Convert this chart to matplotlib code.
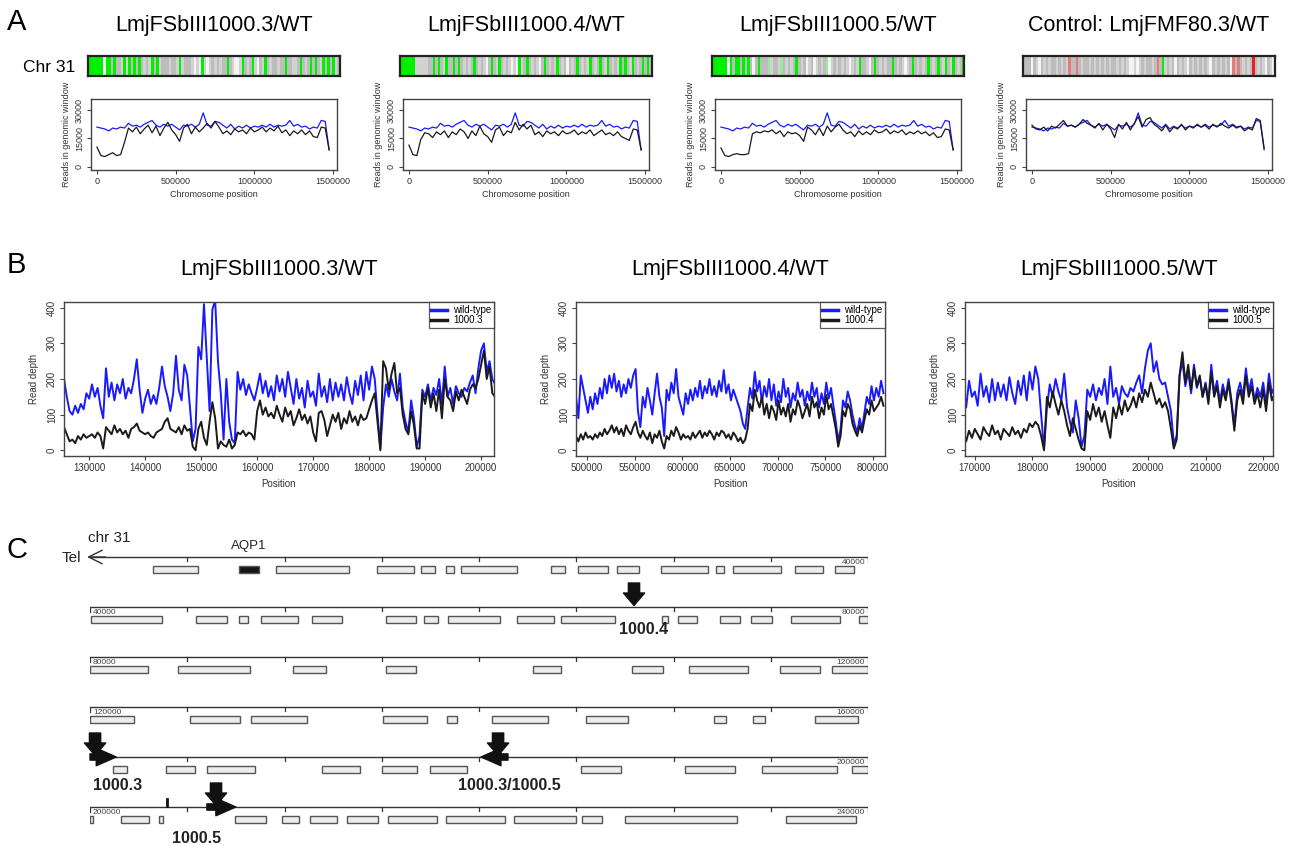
import numpy as np
import matplotlib.pyplot as plt
from matplotlib.patches import Rectangle
from matplotlib.lines import Line2D
from matplotlib.colors import to_rgb

plt.rcParams['font.family'] = ['Liberation Sans', 'DejaVu Sans']

W, H = 1298, 846

# ---------------- panel A data ----------------
titles_a = ['LmjFSbIII1000.3/WT', 'LmjFSbIII1000.4/WT', 'LmjFSbIII1000.5/WT', 'Control: LmjFMF80.3/WT']

# one char per genomic window: G green, g pale green, s grey, l light grey, w white, r/R red
strips = [
    "GGGGGGwGGs" "GsslGlGsGs" "GslslGsGls" "sslsslGlss" "slwlwGlwls"
    "lslssGslww" "lGslsGlwsl" "GslsslssGs" "sllsGslsGs" "GslGsGsGls",
    "GGGGGGllll" "lssGsGslGs" "sGsGslslsG" "slslwsGslG" "slslwlwGls"
    "GslslwsGsl" "slGslswsls" "GslslGslsG" "slGslslGsG" "slGslsGsGs",
    "GGGGGGwGsG" "GsGsGswsGs" "ssglsslgsl" "slsGslswls" "wlslsgwlsl"
    "slslwlslGs" "slwsGslsls" "sGslslwlsG" "slslsGslsG" "slGslGslsG",
    "ssswslwsls" "lsslslslrs" "srslsslsls" "lslslsslsl" "slwwlwlsls"
    "slsrsGlsls" "wslslwslsl" "slslwslsls" "lswrsrslsl" "sRslslwslw",
]
strip_colors = {'G': '#00f000', 'g': '#9be89b', 's': '#bdbdbd', 'l': '#d2d2d2',
                'w': '#f4f4f4', 'r': '#e77a7a', 'R': '#f02020'}

win_start, win_step = 0, 25000
wt_win = [21000, 20500, 20000, 19000, 20500, 20000, 21000, 20500, 23000, 21500,
          22000, 21000, 22500, 23500, 24500, 22000, 21000, 22500, 21500, 22500,
          21000, 19500, 22000, 21500, 22500, 21000, 22500, 28500, 22000, 21500,
          24000, 23500, 22000, 20500, 22500, 20000, 21500, 20500, 22000, 20500,
          21500, 21000, 22000, 21000, 22500, 21000, 22000, 21500, 22000, 24500,
          21500, 22500, 21000, 21500, 20000, 21000, 20500, 24500, 24000, 9000]
mut3_win = [10500, 6000, 5500, 6500, 7500, 6000, 6500, 13000, 20500, 18500,
            21000, 17500, 20000, 22000, 18000, 21500, 16500, 20500, 23500, 19500,
            17000, 13500, 20500, 22500, 17500, 21000, 18500, 20500, 23000, 20500,
            24000, 21000, 17500, 19000, 17000, 20000, 18500, 19500, 17500, 20500,
            18500, 19500, 21000, 18500, 20500, 19000, 21500, 18000, 19500, 16500,
            19000, 17500, 19500, 17000, 19000, 16000, 15500, 21000, 20500, 9000]
mut4_win = [11500, 6500, 6000, 14500, 18000, 17500, 15500, 18500, 17000, 19000,
            15500, 18500, 17000, 20000, 18500, 15000, 19000, 16500, 21500, 17500,
            16000, 13000, 19500, 21000, 16500, 19000, 18000, 23500, 19500, 22500,
            20000, 22000, 17000, 18500, 16000, 19000, 17500, 18500, 16500, 19000,
            17500, 18000, 19500, 17000, 18500, 17500, 19500, 16500, 18000, 19500,
            17000, 18000, 16500, 18500, 16000, 15000, 14000, 20000, 19500, 9000]
mut5_win = [10000, 6000, 5500, 6500, 7000, 6500, 6500, 7000, 17500, 18500,
            18000, 19000, 18500, 19500, 17500, 19000, 16000, 18500, 17500, 18000,
            16500, 13500, 21000, 19500, 17000, 20500, 16500, 21500, 18500, 21000,
            22500, 19500, 17500, 18500, 16000, 19000, 17000, 18500, 17000, 19500,
            18000, 18500, 20000, 17500, 19000, 18000, 19500, 17000, 18500, 17500,
            19000, 17500, 18500, 16500, 18000, 15500, 16000, 20000, 19500, 9000]
ctrl_win = [22000, 20000, 19500, 21000, 19000, 21500, 20500, 22500, 24500, 21500,
            22000, 21000, 22500, 25000, 23000, 22000, 20500, 23000, 19500, 22500,
            20000, 15500, 22500, 20000, 23500, 19500, 23000, 26500, 21000, 25000,
            26000, 22500, 21000, 19000, 22000, 18500, 21000, 20000, 22500, 19500,
            21500, 20500, 22500, 21000, 22000, 20000, 22500, 21000, 23000, 21500,
            20500, 22000, 20500, 21500, 19000, 20500, 19500, 25500, 24500, 10000]
mut_wins = [mut3_win, mut4_win, mut5_win, ctrl_win]

# ---------------- panel B data ----------------
titles_b = ['LmjFSbIII1000.3/WT', 'LmjFSbIII1000.4/WT', 'LmjFSbIII1000.5/WT']
mut_names = ['1000.3', '1000.4', '1000.5']

# wild-type depth, chr31 125.5-222 kb, every 500 bp
wt_a_start, depth_step_a = 125500, 500
wt_depth_a = [200, 150, 110, 100, 125, 105, 130, 115, 160, 145,
              185, 150, 175, 125, 90, 230, 150, 190, 140, 185,
              160, 200, 145, 175, 160, 200, 255, 170, 105, 145,
              170, 130, 155, 130, 175, 235, 180, 150, 110, 160,
              265, 170, 140, 240, 210, 120, 25, 60, 290, 255,
              410, 260, 110, 395, 420, 250, 160, 30, 200, 80,
              30, 20, 220, 170, 200, 155, 185, 160, 140, 175,
              215, 160, 195, 150, 180, 140, 210, 165, 200, 150,
              220, 175, 130, 200, 145, 175, 120, 195, 150, 165,
              125, 215, 150, 180, 135, 200, 140, 190, 150, 185,
              140, 205, 160, 130, 195, 155, 210, 140, 220, 170,
              235, 200, 100, 5, 120, 185, 150, 200, 165, 140,
              215, 120, 80, 50, 140, 90, 10, 40, 170, 150,
              185, 140, 175, 155, 200, 130, 235, 150, 175, 130,
              180, 160, 150, 175, 165, 190, 210, 160, 230, 280,
              300, 220, 250, 200, 185,
              190, 150, 110, 20, 40, 210, 250, 180, 220, 160,
              240, 175, 205, 150, 190, 140, 240, 160, 195, 135,
              185, 150, 200, 140, 70, 160, 190, 150, 230, 165,
              200, 140, 175, 150, 190, 130, 215, 160, 180]
mut3_start = 125500
mut3_depth = [65, 45, 25, 30, 20, 40, 30, 45, 35, 40,
              45, 35, 50, 40, 5, 65, 55, 45, 70, 50,
              60, 45, 55, 35, 60, 65, 75, 55, 50, 45,
              50, 40, 35, 50, 55, 60, 80, 90, 60, 55,
              50, 65, 45, 70, 55, 60, 10, 0, 60, 80,
              35, 15, 80, 135, 90, 5, 25, 15, 10, 30,
              5, 15, 50, 45, 55, 40, 50, 45, 30, 110,
              140, 100, 120, 95, 105, 90, 125, 100, 80, 120,
              95, 110, 70, 90, 115, 85, 100, 75, 95, 50,
              25, 105, 110, 85, 40, 70, 100, 80, 105, 60,
              90, 75, 110, 80, 95, 70, 100, 85, 90, 115,
              140, 160, 80, 0, 250, 230, 170, 215, 245, 160,
              175, 100, 60, 45, 110, 70, 5, 5, 160, 130,
              175, 120, 160, 110, 170, 90, 200, 150, 140, 110,
              165, 140, 170, 150, 130, 170, 185, 175, 200, 240,
              280, 200, 235, 160, 150]
mut5_start = 168000
mut5_depth = [40, 25, 55, 35, 60, 45, 30, 65, 50, 40,
              70, 45, 55, 30, 60, 50, 40, 65, 45, 55,
              35, 60, 50, 75, 65, 80, 70, 40, 0, 150,
              120, 165, 130, 100, 140, 110, 70, 40, 90, 60,
              30, 5, 0, 110, 85, 130, 95, 120, 80, 110,
              70, 35, 120, 90, 130, 100, 140, 110, 125, 150,
              120, 160, 135, 170, 150, 190, 160, 130, 145, 120,
              135, 110, 60, 5, 30, 210, 275, 190, 240, 170,
              230, 180, 210, 150, 185, 130, 220, 150, 180, 120,
              170, 140, 190, 130, 55, 140, 170, 130, 210, 150,
              180, 130, 160, 120, 170, 110, 190, 140, 160]

# wild-type and 1000.4 depth, chr31 488.5-811 kb, every 2500 bp
wt_b_start, depth_step_b = 488500, 2500
wt_depth_b = [150, 90, 210, 175, 140, 105, 150, 115, 160, 130,
              175, 145, 200, 160, 210, 175, 215, 165, 195, 150,
              185, 160, 200, 175, 210, 228, 110, 65, 150, 120,
              175, 140, 100, 160, 215, 150, 120, 40, 170, 140,
              190, 160, 228, 150, 125, 100, 160, 130, 170, 140,
              175, 150, 195, 145, 180, 160, 200, 155, 180, 150,
              195, 165, 225, 160, 185, 140, 170, 150, 130, 110,
              75, 60, 120, 175, 145, 220, 165, 195, 135, 180,
              150, 200, 140, 185, 125, 165, 135, 200, 150, 175,
              120, 160, 140, 190, 150, 170, 125, 165, 140, 190,
              150, 175, 120, 160, 130, 190, 145, 175, 125, 80,
              25, 60, 140, 120, 165, 140, 100, 70, 50, 90,
              60, 105, 150, 130, 180, 140, 175, 150, 195, 160]
mut4_depth = [40, 25, 45, 30, 50, 35, 40, 30, 45, 35,
              50, 40, 60, 45, 55, 70, 50, 65, 45, 60,
              40, 70, 55, 45, 65, 80, 50, 35, 55, 40,
              30, 50, 20, 45, 35, 55, 25, 5, 40, 30,
              55, 40, 65, 50, 30, 45, 35, 40, 30, 50,
              35, 45, 55, 35, 50, 40, 55, 45, 30, 50,
              40, 55, 50, 35, 45, 30, 50, 40, 25, 35,
              20, 30, 60, 130, 110, 170, 140, 120, 150, 100,
              130, 90, 125, 110, 85, 140, 100, 120, 95, 130,
              80, 115, 100, 140, 120, 90, 110, 130, 95, 150,
              120, 135, 90, 120, 100, 155, 115, 130, 95, 60,
              10, 40, 110, 95, 130, 115, 75, 55, 40, 70,
              50, 85, 115, 100, 140, 110, 120, 130, 150, 125]

b_xlims = [(125500, 202300), (488500, 812600), (168300, 221700)]
b_xticks = [range(130000, 200001, 10000), range(500000, 800001, 50000), range(170000, 220001, 10000)]

# ---------------- panel C data ----------------
row_len = 40000
n_rows = 6
genes = [(3240, 5550), (9560, 13320), (14750, 16660), (17020, 17740), (18300, 18710),
         (19070, 21950), (23700, 24420), (25090, 26630), (27090, 28220), (29350, 31770),
         (32180, 32590), (33060, 35520), (36240, 37680), (38300, 39280),
         (40050, 43700), (45450, 47040), (47660, 48120), (48790, 50690), (51410, 52950),
         (55220, 56760), (57170, 57890), (58400, 61080), (61950, 63850), (64210, 66990),
         (69410, 69720), (70230, 71210), (72390, 73420), (73980, 75060), (76040, 78560),
         (79530, 82980), (84520, 88230), (90440, 92130), (95220, 96760), (102770, 104210),
         (107860, 109460), (110790, 113830), (115470, 117530), (118150, 122260),
         (125140, 127710), (128280, 131160), (135060, 137330), (138350, 138870),
         (140670, 143550), (145500, 147660), (152080, 152700), (154090, 154700),
         (157270, 159480), (161180, 161900), (163910, 165400), (166010, 168480),
         (171930, 173880), (175010, 176810), (177480, 179380), (185240, 187300),
         (190590, 193160), (194550, 198400), (199170, 200150), (201590, 203030),
         (203550, 203750), (207450, 209050), (209870, 210740), (211310, 212700),
         (213210, 214810), (215320, 217840), (218300, 221340), (221800, 224990),
         (225290, 226320), (227500, 233260), (235780, 239380)]
aqp1 = (7660, 8690)
insertions = [67970, 160260, 180980, 206480]
insertion_labels = ['1000.4', '1000.3', '1000.3/1000.5', '1000.5']
directions = [(160000, 161350), (181490, 180100), (206010, 207500)]
small_mark = 203960

# ---------------- figure ----------------
fig = plt.figure(figsize=(W / 100, H / 100), dpi=100)


def px_axes(x0, y0, x1, y1):
    return fig.add_axes([x0 / W, 1 - y1 / H, (x1 - x0) / W, (y1 - y0) / H])


def r_style(ax, size):
    for s in ax.spines.values():
        s.set_linewidth(1.0)
        s.set_color('#444444')
    ax.tick_params(direction='out', length=3, width=0.8, color='#444444',
                   labelsize=size, labelcolor='#333333', pad=2)


BLUE = '#1a1aff'
BLACK = '#1a1a1a'

fig.text(7 / W, 1 - 22 / H, 'A', fontsize=21, va='center')
fig.text(7 / W, 1 - 265 / H, 'B', fontsize=21, va='center')
fig.text(7 / W, 1 - 550 / H, 'C', fontsize=21, va='center')
fig.text(23 / W, 1 - 67 / H, 'Chr 31', fontsize=12.5, va='center')

win_pos = win_start + win_step * np.arange(len(wt_win))
strip_x = [88, 400, 712, 1023]
for k in range(4):
    x0 = strip_x[k]
    fig.text((x0 + 126) / W, 1 - 25 / H, titles_a[k], ha='center', va='center', fontsize=15.5)
    sa = px_axes(x0, 56, x0 + 252, 76)
    rgb = np.array([[to_rgb(strip_colors[c]) for c in strips[k]]])
    sa.imshow(rgb, aspect='auto', interpolation='nearest')
    sa.set_xticks([])
    sa.set_yticks([])
    for s in sa.spines.values():
        s.set_linewidth(1.6)
        s.set_color('#222222')

    ax = px_axes(x0 + 3, 99, x0 + 249, 170)
    ax.plot(win_pos, wt_win, color=BLUE, lw=0.9)
    ax.plot(win_pos, mut_wins[k], color=BLACK, lw=0.9)
    ax.set_xlim(-38000, 1525000)
    ax.set_ylim(-1600, 35800)
    ax.set_xticks([0, 500000, 1000000, 1500000])
    ax.set_xticklabels(['0', '500000', '1000000', '1500000'])
    ax.set_yticks([0, 15000, 30000])
    ax.set_yticklabels(['0', '15000', '30000'], rotation=90, va='center')
    r_style(ax, 6.5)
    ax.set_xlabel('Chromosome position', fontsize=6.5, color='#333333', labelpad=3)
    ax.set_ylabel('Reads in genomic window', fontsize=6.5, color='#333333', labelpad=3)

# panel B
pos_a = wt_a_start + depth_step_a * np.arange(len(wt_depth_a))
pos_3 = mut3_start + depth_step_a * np.arange(len(mut3_depth))
pos_5 = mut5_start + depth_step_a * np.arange(len(mut5_depth))
pos_b = wt_b_start + depth_step_b * np.arange(len(wt_depth_b))
b_series = [(pos_a, wt_depth_a, pos_3, mut3_depth),
            (pos_b, wt_depth_b, pos_b, mut4_depth),
            (pos_a, wt_depth_a, pos_5, mut5_depth)]
b_boxes = [(64, 494), (576, 885), (965, 1273)]
for k in range(3):
    x0, x1 = b_boxes[k]
    fig.text((x0 + x1) / 2 / W, 1 - 270 / H, titles_b[k], ha='center', va='center', fontsize=15.5)
    ax = px_axes(x0, 302, x1, 456)
    wx, wy, mx, my = b_series[k]
    ax.plot(wx, wy, color=BLUE, lw=1.4)
    ax.plot(mx, my, color=BLACK, lw=1.4)
    ax.set_xlim(*b_xlims[k])
    ax.set_ylim(-16, 416)
    ax.set_xticks(list(b_xticks[k]))
    ax.set_xticklabels([str(t) for t in b_xticks[k]])
    ax.set_yticks([0, 100, 200, 300, 400])
    ax.set_yticklabels(['0', '100', '200', '300', '400'], rotation=90, va='center')
    r_style(ax, 7)
    ax.set_xlabel('Position', fontsize=7, color='#333333', labelpad=4)
    ax.set_ylabel('Read depth', fontsize=7, color='#333333', labelpad=6)
    handles = [Line2D([], [], color=BLUE, lw=2.5), Line2D([], [], color=BLACK, lw=2.5)]
    leg = ax.legend(handles, ['wild-type', mut_names[k]], loc='upper right', fontsize=7,
                    frameon=True, fancybox=False, borderaxespad=0, handlelength=1.6,
                    borderpad=0.3, labelspacing=0.05, handletextpad=0.6)
    leg.get_frame().set_edgecolor('#333333')
    leg.get_frame().set_linewidth(0.9)

# panel C
cx = px_axes(90, 520, 868, 846)
cx.set_xlim(0, row_len)
cx.set_ylim(5.78, -0.74)
cx.axis('off')
for r in range(n_rows):
    start = r * row_len
    x_from = -130 if r == 0 else 0
    cx.plot([x_from, row_len], [r, r], color='#333333', lw=1.0, solid_capstyle='butt')
    for t in range(5000, row_len, 5000):
        cx.plot([t, t], [r, r + 0.08], color='#333333', lw=0.9)
    cx.plot([row_len, row_len], [r, r + 0.1], color='#333333', lw=0.9)
    cx.text(row_len - 150, r + 0.03, str(start + row_len), ha='right', va='top',
            fontsize=6, color='#444444')
    if r in (1, 2, 3, 5):
        cx.plot([0, 0], [r, r + 0.1], color='#333333', lw=0.9)
        cx.text(150, r + 0.03, str(start), ha='left', va='top', fontsize=6, color='#444444')

for (s, e) in genes + [aqp1]:
    fill = '#151515' if (s, e) == aqp1 else '#ececec'
    for r in range(n_rows):
        lo, hi = max(s, r * row_len), min(e, (r + 1) * row_len)
        if hi > lo:
            cx.add_patch(Rectangle((lo - r * row_len, r + 0.18), hi - lo, 0.14,
                                   facecolor=fill, edgecolor='#555555', lw=1.0))

cx.text((aqp1[0] + aqp1[1]) / 2, -0.22, 'AQP1', ha='center', va='center', fontsize=9.5, color='#222222')
cx.text(-100, -0.38, 'chr 31', ha='left', va='center', fontsize=11, color='#222222', clip_on=False)
cx.text(-450, 0.02, 'Tel', ha='right', va='center', fontsize=11, color='#222222', clip_on=False)
cx.annotate('', xy=(-150, 0), xytext=(800, 0),
            arrowprops=dict(arrowstyle='->,head_length=0.7,head_width=0.35', lw=1.0,
                            color='#333333', mutation_scale=14, shrinkA=0, shrinkB=0),
            annotation_clip=False)

# insertion sites
label_layout = [(500, 0.46, 'center'), (-100, 0.56, 'left'), (600, 0.56, 'center'), (-1000, 0.62, 'center')]
for p, lab, (dx, dy, ha) in zip(insertions, insertion_labels, label_layout):
    r = p // row_len
    x = p - r * row_len
    cx.annotate('', xy=(x, r - 0.03), xytext=(x, r - 0.48),
                arrowprops=dict(arrowstyle='simple,head_length=0.5,head_width=0.85,tail_width=0.45',
                                fc='#111111', ec='#111111', mutation_scale=18,
                                shrinkA=0, shrinkB=0),
                annotation_clip=False)
    cx.text(x + dx, r + dy, lab, ha=ha, va='center', fontsize=11.5, fontweight='bold',
            color='#222222', clip_on=False)

for (s, e) in directions:
    r = min(s, e) // row_len
    cx.annotate('', xy=(e - r * row_len, r), xytext=(s - r * row_len, r),
                arrowprops=dict(arrowstyle='simple,head_length=0.8,head_width=0.7,tail_width=0.25',
                                fc='#111111', ec='#111111', mutation_scale=18,
                                shrinkA=0, shrinkB=0),
                annotation_clip=False)

r = small_mark // row_len
cx.plot([small_mark - r * row_len] * 2, [r - 0.16, r - 0.03], color='#111111', lw=2)

fig.savefig('out.png', dpi=100)
